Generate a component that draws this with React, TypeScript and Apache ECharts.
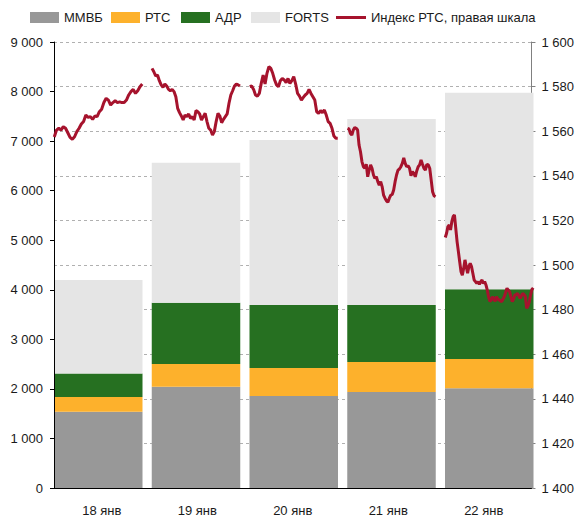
import React, { useEffect, useRef } from "react";
import * as echarts from "echarts";

const categories = ["18 янв", "19 янв", "20 янв", "21 янв", "22 янв"];
const mmvb = [1556, 2060, 1870, 1953, 2027];
const rts = [296, 457, 566, 604, 590];
const adr = [473, 1234, 1268, 1147, 1403];
const forts = [1883, 2819, 3322, 3745, 3959];

const indexDay1 = [1557.5, 1560.6, 1561.4, 1560.6, 1562.1, 1561.4, 1559.4, 1557.3, 1556.5, 1557.6, 1559.9, 1561.4, 1563.3, 1564.4, 1567.3, 1566.3, 1566.6, 1565.4, 1566.9, 1566.6, 1568.8, 1569.9, 1572.9, 1574.8, 1574.0, 1571.8, 1572.9, 1573.7, 1572.9, 1573.2, 1572.9, 1572.9, 1574.0, 1576.3, 1577.8, 1578.8, 1577.0, 1578.2, 1580.0, 1581.2];
const indexDay2 = [1588.2, 1586.7, 1584.8, 1585.2, 1582.7, 1580.8, 1579.7, 1581.2, 1580.3, 1578.8, 1578.2, 1578.8, 1577.8, 1575.5, 1570.3, 1568.4, 1566.9, 1565.1, 1567.3, 1566.6, 1567.8, 1565.8, 1566.6, 1565.1, 1569.3, 1568.8, 1567.8, 1565.1, 1566.6, 1568.1, 1564.4, 1561.4, 1560.6, 1558.4, 1559.9, 1564.4, 1568.1, 1566.9, 1563.9, 1565.4, 1566.6, 1567.8, 1572.6, 1576.3, 1578.2, 1580.3, 1581.2, 1580.8, 1580.3];
const indexDay3 = [1580.0, 1580.3, 1578.8, 1576.3, 1575.8, 1577.0, 1581.5, 1585.2, 1581.2, 1586.0, 1589.0, 1588.2, 1586.0, 1583.0, 1580.8, 1580.0, 1582.7, 1583.7, 1583.0, 1581.8, 1583.7, 1581.5, 1582.7, 1584.5, 1581.2, 1577.0, 1575.8, 1574.0, 1575.2, 1576.3, 1577.0, 1578.8, 1577.0, 1575.5, 1574.0, 1568.8, 1568.1, 1569.3, 1568.4, 1569.6, 1567.3, 1564.4, 1563.6, 1561.4, 1557.9, 1556.9, 1556.9];
const indexDay4 = [1561.4, 1561.1, 1559.1, 1558.4, 1560.6, 1561.7, 1561.4, 1560.6, 1553.9, 1550.9, 1546.5, 1544.2, 1543.5, 1545.3, 1539.7, 1542.7, 1545.0, 1543.5, 1540.5, 1539.0, 1539.7, 1537.5, 1536.0, 1537.5, 1535.3, 1531.5, 1530.1, 1528.9, 1528.3, 1530.1, 1531.5, 1531.8, 1533.8, 1537.5, 1540.5, 1542.7, 1543.2, 1544.2, 1545.7, 1548.2, 1545.7, 1544.2, 1544.7, 1543.5, 1540.2, 1542.0, 1541.2, 1539.7, 1542.3, 1544.2, 1545.0, 1547.2, 1545.3, 1543.5, 1542.7, 1545.3, 1545.0, 1543.5, 1538.3, 1533.0, 1531.2, 1530.8];
const indexDay5 = [1512.5, 1514.4, 1517.4, 1518.1, 1515.9, 1519.6, 1521.9, 1522.6, 1516.6, 1510.7, 1506.2, 1501.7, 1497.2, 1495.7, 1498.7, 1502.5, 1499.5, 1496.5, 1499.5, 1501.0, 1499.5, 1496.5, 1493.5, 1492.8, 1492.0, 1492.8, 1491.6, 1492.8, 1493.5, 1492.0, 1492.8, 1491.3, 1489.0, 1486.0, 1484.0, 1484.5, 1486.0, 1485.0, 1484.0, 1486.0, 1485.0, 1484.6, 1484.2, 1483.8, 1485.0, 1486.1, 1488.0, 1489.8, 1489.0, 1488.3, 1486.0, 1483.8, 1485.0, 1486.8, 1487.0, 1487.5, 1486.5, 1485.3, 1486.5, 1487.5, 1487.0, 1486.1, 1480.8, 1482.0, 1483.8, 1487.0, 1489.3, 1490.0];
const indexDays = [indexDay1, indexDay2, indexDay3, indexDay4, indexDay5];

const leftTicks = { min: 0, max: 9000, interval: 1000 };
const rightTicks = { min: 1400, max: 1600, interval: 20 };

const FONT = "'Liberation Sans', Arial, sans-serif";
const TEXT = "#1a1a1a";
const LINE_NAME = "Индекс РТС, правая шкала";
const LINE_COLOR = "#A6132D";

const fmt = (v: number) => String(v).replace(/\B(?=(\d{3})+(?!\d))/g, " ");

export default function App() {
  const ref = useRef<HTMLDivElement>(null);
  useEffect(() => {
    if (!ref.current) return;
    const chart = echarts.init(ref.current, null, { renderer: "svg" });
    const half = 0.45;
    const lineSeries = indexDays.map((vals, d) => ({
      name: LINE_NAME,
      type: "line",
      xAxisIndex: 2,
      yAxisIndex: 3,
      showSymbol: false,
      symbol: "none",
      z: 6,
      lineStyle: { color: LINE_COLOR, width: 3 },
      itemStyle: { color: LINE_COLOR },
      data: vals.map((v, k) => [d - half + (2 * half * k) / (vals.length - 1), v]),
    }));
    const bar = (name: string, data: number[], color: string) => ({
      name,
      type: "bar",
      stack: "vol",
      xAxisIndex: 1,
      yAxisIndex: 2,
      barWidth: 88.5,
      itemStyle: { color },
      data,
    });
    const legendItem = (name: string, left: number, itemHeight = 11, itemWidth = 29) => ({
      top: 11,
      left,
      itemWidth,
      itemHeight,
      itemGap: 0,
      padding: 0,
      textStyle: { fontFamily: FONT, fontSize: 13, color: TEXT },
      data: [{ name, icon: "rect" }],
    });
    chart.setOption({
      animation: false,
      textStyle: { fontFamily: FONT, color: TEXT },
      legend: [
        legendItem("ММВБ", 30),
        legendItem("РТС", 111),
        legendItem("АДР", 181),
        legendItem("FORTS", 251),
        legendItem(LINE_NAME, 336, 3, 30),
      ],
      grid: [
        { left: 54, right: 44, top: 42, bottom: 28 },
        { left: 49.375, right: 38.875, top: 42, bottom: 28 },
      ],
      xAxis: [
        {
          type: "category",
          gridIndex: 0,
          data: categories,
          z: 5,
          axisLine: { lineStyle: { color: "#000", width: 1 } },
          axisTick: { show: false },
          axisLabel: { margin: 16, fontSize: 13, color: TEXT, fontFamily: FONT },
        },
        { type: "category", gridIndex: 1, data: categories, show: false },
        { type: "value", gridIndex: 1, min: -0.5, max: 4.5, show: false },
      ],
      yAxis: [
        {
          type: "value",
          gridIndex: 0,
          position: "left",
          ...leftTicks,
          z: 5,
          axisLine: { show: true, lineStyle: { color: "#000", width: 1 } },
          axisTick: { show: true, length: 4, lineStyle: { color: "#000" } },
          axisLabel: { formatter: fmt, fontSize: 13, color: TEXT, fontFamily: FONT, margin: 11 },
          splitLine: { show: false },
        },
        {
          type: "value",
          gridIndex: 0,
          position: "right",
          ...rightTicks,
          axisLine: { show: true, lineStyle: { color: "#808080", width: 1 } },
          axisTick: { show: true, length: 4, lineStyle: { color: "#808080" } },
          axisLabel: { formatter: fmt, fontSize: 13, color: TEXT, fontFamily: FONT, margin: 10 },
          splitLine: { show: true, lineStyle: { color: "#b0b0b0", type: [3, 3], width: 1 } },
        },
        { type: "value", gridIndex: 1, ...leftTicks, show: false },
        { type: "value", gridIndex: 1, ...rightTicks, show: false },
      ],
      series: [
        bar("ММВБ", mmvb, "#989898"),
        bar("РТС", rts, "#FDB12C"),
        bar("АДР", adr, "#267021"),
        bar("FORTS", forts, "#E5E5E5"),
        ...lineSeries,
      ],
    });
    return () => chart.dispose();
  }, []);
  return (
    <div
      ref={ref}
      style={{ position: "fixed", left: 0, top: 0, width: 577, height: 517, background: "#fff" }}
    />
  );
}
